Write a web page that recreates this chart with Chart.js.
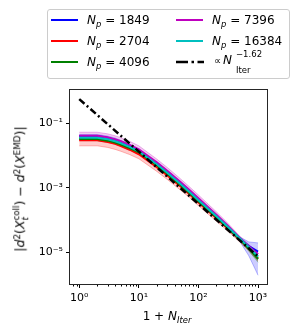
<!DOCTYPE html>
<html><head><meta charset="utf-8">
<script src="https://cdn.jsdelivr.net/npm/chart.js@4/dist/chart.umd.min.js"></script>
<style>
html,body{margin:0;padding:0;background:#fff;}
#wrap{position:relative;width:299px;height:335px;font-family:'DejaVu Sans',sans-serif;color:#000;overflow:hidden;}
#c{position:absolute;left:0;top:0;}
.abs{position:absolute;white-space:nowrap;}
.lgbox{position:absolute;left:47px;top:9px;width:241px;height:68px;border:1px solid #cccccc;border-radius:3px;background:rgba(255,255,255,0.8);}
.swatch{position:absolute;width:27px;height:2px;}
.lt{position:absolute;font-size:12px;line-height:14px;white-space:nowrap;}
.lt sub{font-size:70%;vertical-align:-0.3em;line-height:0;}
sup{font-size:70%;vertical-align:0.45em;line-height:0;}
sub{font-size:70%;vertical-align:-0.3em;line-height:0;}
.ss{display:inline-flex;flex-direction:column;vertical-align:middle;font-size:70%;line-height:1;}
#ylab{position:absolute;left:21px;top:189px;transform:translate(-50%,-50%) rotate(-90deg);font-size:12.5px;white-space:nowrap;line-height:1;}
#xlab{position:absolute;left:167px;top:316px;transform:translate(-50%,-50%);font-size:12px;white-space:nowrap;line-height:1;}
</style>
</head><body>
<div id="wrap">
<canvas id="c" width="299" height="335"></canvas>
<div class="lgbox"></div>
<div id="legendItems"></div>
<div id="ylab">|<i>d</i><sup>2</sup>(<i>X</i><span class="ss"><span>coll</span><span><i>t</i></span></span>) − <i>d</i><sup>2</sup>(<i>X</i><sup>EMD</sup>)|</div>
<div id="xlab">1 + <i>N</i><sub><i>Iter</i></sub></div>
</div>
<script>
// ---------------- data ----------------
const xValues = [1, 2, 3, 4, 5, 7, 10, 20, 30, 50, 70, 100, 200, 300, 500, 700, 1000];

// log10 of the mean error for each N_p
const log10Err1849  = [-1.40,-1.40,-1.45,-1.51,-1.58,-1.70,-1.85,-2.27,-2.54,-2.89,-3.13,-3.40,-3.90,-4.20,-4.58,-4.80,-4.97];
const log10Err2704  = [-1.53,-1.53,-1.58,-1.64,-1.71,-1.82,-1.96,-2.36,-2.62,-2.96,-3.19,-3.45,-3.94,-4.23,-4.60,-4.87,-5.17];
const log10Err4096  = [-1.49,-1.49,-1.54,-1.60,-1.66,-1.77,-1.90,-2.30,-2.56,-2.91,-3.15,-3.41,-3.91,-4.21,-4.60,-4.88,-5.20];
const log10Err7396  = [-1.39,-1.39,-1.44,-1.50,-1.56,-1.67,-1.81,-2.21,-2.47,-2.82,-3.06,-3.32,-3.83,-4.14,-4.56,-4.80,-5.05];
const log10Err16384 = [-1.45,-1.45,-1.50,-1.56,-1.62,-1.73,-1.87,-2.27,-2.53,-2.88,-3.12,-3.38,-3.88,-4.18,-4.57,-4.83,-5.12];

// shaded band extent above / below the mean, in decades
const bandUp1849    = [0.05,0.05,0.05,0.05,0.05,0.05,0.05,0.05,0.05,0.05,0.05,0.05,0.05,0.05,0.06,0.13,0.27];
const bandDown1849  = [0.05,0.05,0.05,0.05,0.05,0.05,0.05,0.05,0.05,0.05,0.05,0.05,0.05,0.06,0.09,0.30,0.73];
const bandUp2704    = [0.13,0.13,0.13,0.13,0.13,0.12,0.12,0.11,0.10,0.10,0.10,0.09,0.08,0.08,0.07,0.07,0.07];
const bandDown2704  = [0.17,0.17,0.17,0.17,0.16,0.15,0.14,0.13,0.12,0.11,0.10,0.10,0.09,0.08,0.08,0.08,0.09];
const bandUp4096    = [0.05,0.05,0.05,0.05,0.05,0.05,0.05,0.05,0.05,0.05,0.05,0.05,0.05,0.05,0.05,0.06,0.08];
const bandDown4096  = [0.05,0.05,0.05,0.05,0.05,0.05,0.05,0.05,0.05,0.05,0.05,0.05,0.05,0.05,0.05,0.07,0.10];
const bandUp7396    = [0.11,0.11,0.11,0.11,0.11,0.11,0.11,0.10,0.10,0.10,0.10,0.10,0.09,0.08,0.06,0.05,0.05];
const bandDown7396  = [0.08,0.08,0.08,0.08,0.08,0.08,0.08,0.08,0.08,0.08,0.08,0.08,0.07,0.06,0.05,0.05,0.05];
const bandUp16384   = [0.04,0.04,0.04,0.04,0.04,0.04,0.04,0.04,0.04,0.04,0.04,0.04,0.04,0.04,0.04,0.05,0.07];
const bandDown16384 = [0.04,0.04,0.04,0.04,0.04,0.04,0.04,0.04,0.04,0.04,0.04,0.04,0.04,0.04,0.04,0.05,0.08];

// power-law guide  ∝ N_iter^-1.62
const refX = [1, 1000];
const refY = [0.553, 7.6e-6];

const npLabels = ['1849', '2704', '4096', '7396', '16384'];
const xMajorTicks = [1, 10, 100, 1000];
const xTickLabels = ['10⁰', '10¹', '10²', '10³'];
const xMinorTicks = [0.8,0.9,2,3,4,5,6,7,8,9,20,30,40,50,60,70,80,90,200,300,400,500,600,700,800,900];
const yMajorTicks = [1e-1, 1e-3, 1e-5];
const yTickLabels = ['10⁻¹', '10⁻³', '10⁻⁵'];

// ---------------- styling ----------------
const colors = ['rgb(0,0,255)', 'rgb(255,0,0)', 'rgb(0,128,0)', 'rgb(191,0,191)', 'rgb(0,191,191)'];
const rgbs   = [[0,0,255],[255,0,0],[0,128,0],[191,0,191],[0,191,191]];
const means  = [log10Err1849, log10Err2704, log10Err4096, log10Err7396, log10Err16384];
const ups    = [bandUp1849, bandUp2704, bandUp4096, bandUp7396, bandUp16384];
const downs  = [bandDown1849, bandDown2704, bandDown4096, bandDown7396, bandDown16384];
const lineOrder = [5, 4, 3, 2, 1];

const datasets = [];
// bands first (drawn underneath)
means.forEach((m, k) => {
  const [r,g,b] = rgbs[k];
  datasets.push({
    label: 'lo' + npLabels[k],
    data: xValues.map((x, i) => ({x, y: Math.pow(10, m[i] - downs[k][i])})),
    borderColor: `rgba(${r},${g},${b},0.35)`, borderWidth: 0.8, pointRadius: 0, fill: false, order: 20 - k
  });
  datasets.push({
    label: 'hi' + npLabels[k],
    data: xValues.map((x, i) => ({x, y: Math.pow(10, m[i] + ups[k][i])})),
    borderColor: `rgba(${r},${g},${b},0.35)`, borderWidth: 0.8, pointRadius: 0,
    backgroundColor: `rgba(${r},${g},${b},0.2)`, fill: '-1', order: 20 - k
  });
});
means.forEach((m, k) => {
  datasets.push({
    label: 'N_p = ' + npLabels[k],
    data: xValues.map((x, i) => ({x, y: Math.pow(10, m[i])})),
    borderColor: colors[k], borderWidth: 2, pointRadius: 0, fill: false, order: lineOrder[k]
  });
});
datasets.push({
  label: '∝ N_Iter^-1.62',
  data: refX.map((x, i) => ({x, y: refY[i]})),
  borderColor: '#000', borderWidth: 2.5, borderDash: [7, 3, 2, 3], pointRadius: 0, fill: false, order: 0
});

const framePlugin = {
  id: 'frame',
  afterDraw(chart) {
    const {ctx, chartArea: a, scales} = chart;
    ctx.save();
    ctx.strokeStyle = '#000';
    ctx.lineWidth = 1;
    // minor x ticks
    ctx.beginPath();
    xMinorTicks.forEach(v => {
      const px = Math.round(scales.x.getPixelForValue(v)) + 0.5;
      if (px < a.left || px > a.right) return;
      ctx.moveTo(px, a.bottom);
      ctx.lineTo(px, a.bottom + 2.5);
    });
    ctx.stroke();
    ctx.strokeStyle = '#262626';
    ctx.strokeRect(Math.round(a.left) - 0.5, Math.round(a.top) - 0.5, Math.round(a.right - a.left) + 1, Math.round(a.bottom - a.top) + 1);
    ctx.restore();
  }
};

new Chart(document.getElementById('c'), {
  type: 'line',
  data: {datasets},
  options: {
    responsive: false, animation: false, events: [],
    layout: {padding: {left: 0, top: 90, right: 32, bottom: 0}},
    plugins: {legend: {display: false}, tooltip: {enabled: false}, title: {display: false}},
    elements: {line: {tension: 0}},
    scales: {
      x: {
        type: 'logarithmic', min: 0.7079, max: 1412.5,
        afterBuildTicks: s => { s.ticks = xMajorTicks.map(v => ({value: v})); },
        afterFit: s => { s.height = 51; },
        ticks: {autoSkip: false, maxRotation: 0, padding: 4, color: '#000',
          font: {family: 'DejaVu Sans', size: 11},
          callback: v => xTickLabels[xMajorTicks.indexOf(v)]},
        grid: {drawOnChartArea: false, drawTicks: true, tickLength: 4, color: '#000', tickColor: '#000'},
        border: {display: false}
      },
      y: {
        type: 'logarithmic', min: Math.pow(10, -5.97), max: Math.pow(10, 0.025),
        afterBuildTicks: s => { s.ticks = yMajorTicks.map(v => ({value: v})); },
        afterFit: s => { s.width = 70; },
        ticks: {autoSkip: false, padding: 3, color: '#000',
          font: {family: 'DejaVu Sans', size: 11},
          callback: v => yTickLabels[yMajorTicks.findIndex(t => Math.abs(t - v) / t < 1e-6)]},
        grid: {drawOnChartArea: false, drawTicks: true, tickLength: 4, color: '#000', tickColor: '#000'},
        border: {display: false}
      }
    }
  },
  plugins: [framePlugin]
});

// ---------------- legend (HTML, real text) ----------------
const legendRows = [20, 41, 62];
const legendCols = [{line: 51, text: 87}, {line: 176, text: 212}];
let html = '';
npLabels.forEach((lab, k) => {
  const col = legendCols[Math.floor(k / 3)];
  const y = legendRows[k % 3];
  html += `<div class="swatch" style="left:${col.line}px;top:${y - 1}px;background:${colors[k]}"></div>`;
  html += `<div class="lt" style="left:${col.text}px;top:${y - 7}px"><i>N</i><sub><i>p</i></sub> = ${lab}</div>`;
});
{
  const col = legendCols[1], y = legendRows[2];
  html += `<svg class="abs" style="left:${col.line}px;top:${y - 3}px" width="28" height="6"><line x1="0" y1="3" x2="28" y2="3" stroke="#000" stroke-width="2.4" stroke-dasharray="12 3.5 2.5 3.5"/></svg>`;
  html += `<div class="abs" style="left:214px;top:56px;font-size:10px;line-height:10px">∝</div>`;
  html += `<div class="abs" style="left:223px;top:54px;font-size:12px;line-height:12px"><i>N</i></div>`;
  html += `<div class="abs" style="left:236px;top:50px;font-size:8.5px;line-height:8.5px">−1.62</div>`;
  html += `<div class="abs" style="left:236px;top:66px;font-size:8.5px;line-height:8.5px">Iter</div>`;
}
document.getElementById('legendItems').innerHTML = html;
</script>
</body></html>
